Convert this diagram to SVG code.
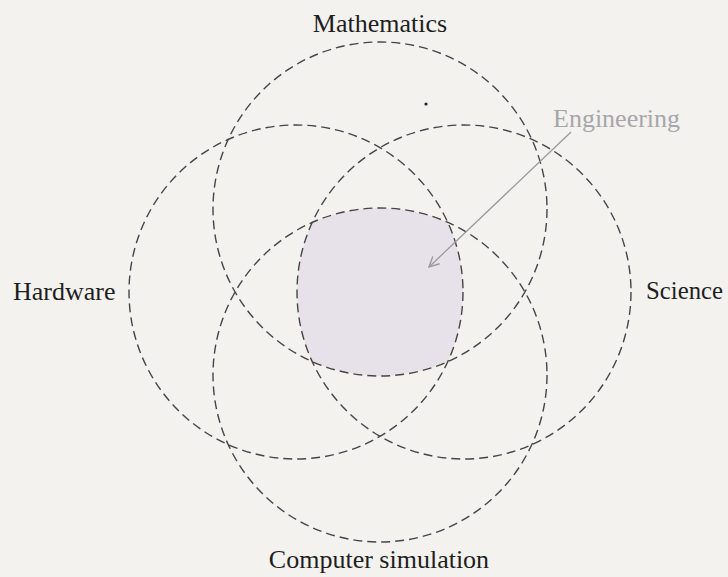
<svg xmlns="http://www.w3.org/2000/svg" width="728" height="577" viewBox="0 0 728 577">
  <style>
    .ring { fill: none; stroke: #454545; stroke-width: 1.4; stroke-dasharray: 9 5; }
    .lbl { font-family: "Liberation Serif", "DejaVu Serif", serif; font-size: 26px; fill: #1e1e1e; }
    .eng { fill: #a8a6aa; }
  </style>
  <defs>
    <clipPath id="cM"><circle cx="380" cy="209" r="167"/></clipPath>
    <clipPath id="cC"><circle cx="380" cy="375" r="167"/></clipPath>
    <clipPath id="cH"><circle cx="296" cy="292" r="167"/></clipPath>
    <clipPath id="cS"><circle cx="464" cy="292" r="167"/></clipPath>
    <marker id="arr" viewBox="0 0 12 12" refX="11" refY="6" markerWidth="12" markerHeight="12" markerUnits="userSpaceOnUse" orient="auto">
      <path d="M1,1 L11,6 L1,11" fill="none" stroke="#9a9a9c" stroke-width="1.4"/>
    </marker>
  </defs>
  <rect width="728" height="577" fill="#f3f2ef"/>
  <g id="engineering-region">
    <g clip-path="url(#cM)">
      <g clip-path="url(#cC)">
        <g clip-path="url(#cH)">
          <rect x="0" y="0" width="728" height="577" fill="#e7e2ea" clip-path="url(#cS)"/>
        </g>
      </g>
    </g>
  </g>
  <g id="mathematics">
    <circle class="ring" cx="380" cy="209" r="167"/>
    <text class="lbl" x="380" y="32" text-anchor="middle">Mathematics</text>
  </g>
  <g id="computer-simulation">
    <circle class="ring" cx="380" cy="375" r="167"/>
    <text class="lbl" x="379" y="568" text-anchor="middle">Computer simulation</text>
  </g>
  <g id="hardware">
    <circle class="ring" cx="296" cy="292" r="167"/>
    <text class="lbl" x="13" y="300">Hardware</text>
  </g>
  <g id="science">
    <circle class="ring" cx="464" cy="292" r="167"/>
    <text class="lbl" x="646" y="299" textLength="77" lengthAdjust="spacingAndGlyphs">Science</text>
  </g>
  <g id="engineering">
    <text class="lbl eng" x="553" y="127">Engineering</text>
  </g>
  <g id="connectors">
    <line x1="571" y1="132" x2="429" y2="267" stroke="#9a9a9c" stroke-width="1.3" marker-end="url(#arr)"/>
  </g>
  <circle cx="426" cy="104" r="1.6" fill="#222"/>
</svg>
